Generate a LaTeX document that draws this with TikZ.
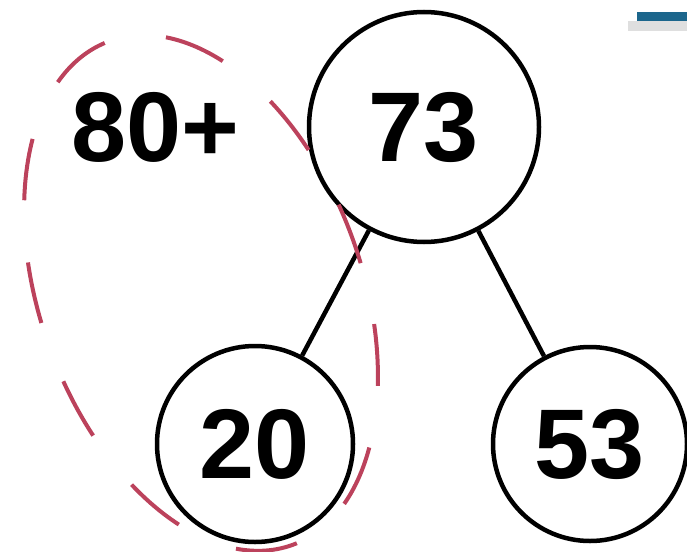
\documentclass[tikz,border=0pt]{standalone}
\usepackage{fontspec}
\setmainfont{Liberation Sans}
\usepackage{tikz}
\usetikzlibrary{positioning}
\definecolor{loopred}{RGB}{188,66,92}
\definecolor{barblue}{RGB}{28,102,140}
\begin{document}
\begin{tikzpicture}[x=1pt, y=-1pt, line width=4.5pt,
    every node/.append style={font=\fontsize{99}{99}\selectfont\bfseries},
    num/.style={draw=black, circle, inner sep=0pt, minimum size=#1}]
    \useasboundingbox (0,0) rectangle (687,551);
    \node(n73)[num=230pt] at (424,127) {73};
    \node(n20)[num=196pt] at (255,444) {20};
    \node(n53)[num=194pt] at (590,444) {53};
    \node(plus) at (155,127) {80+};
    \draw(n73) -- (n20);
    \draw(n73) -- (n53);
    % ring round 80+ and 20
    \coordinate (ring) at (201,293);
    \draw[loopred, line width=4pt, dash pattern=on 62pt off 62.4pt, dash phase=26pt,
      rotate around={20:(ring)}] (ring) ellipse [x radius=161pt, y radius=268pt];
    % corner mark
    \fill[gray!25] (628,21) rectangle (687,31);
    \fill[barblue] (637,12) rectangle (687,21);
\end{tikzpicture}
\end{document}
